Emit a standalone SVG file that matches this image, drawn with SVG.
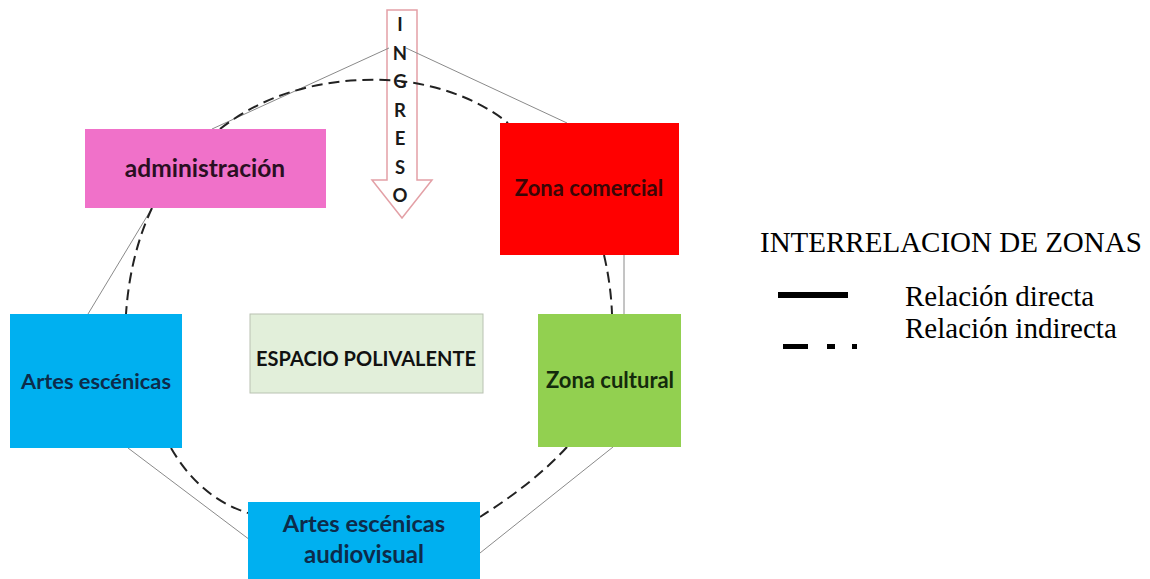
<svg xmlns="http://www.w3.org/2000/svg" width="1150" height="579" viewBox="0 0 1150 579">
<style>
.box text{font-family:Lato,"Liberation Sans",sans-serif;font-weight:bold;text-anchor:middle}
.thin{fill:none;stroke:#8a8a8a;stroke-width:1}
.dash{fill:none;stroke:#222;stroke-width:2;stroke-dasharray:11 6}
.leg{font-family:"Liberation Serif","Times New Roman",serif;font-size:29px;fill:#000}
.ing{font-family:Lato,"Liberation Sans",sans-serif;font-weight:bold;font-size:18.5px;fill:#1a1a1a;text-anchor:middle}
</style>
<rect width="1150" height="579" fill="#fff"/>
<g id="ingreso">
<path d="M387,10 H417 V180 H432 L402,218 L372,180 H387 Z" fill="#fff" stroke="#e3a0a6" stroke-width="1.5"/>
</g>
<g id="connectors">
<line class="thin" x1="389" y1="48" x2="212" y2="129"/>
<line class="thin" x1="406" y1="48" x2="567" y2="123"/>
<line class="thin" x1="152" y1="208" x2="88" y2="314"/>
<line class="thin" x1="128" y1="448" x2="250" y2="540"/>
<line class="thin" x1="480" y1="553" x2="613" y2="447"/>
<line class="thin" x1="624" y1="255" x2="624" y2="314"/>
<path class="dash" d="M220,129 C270,90 330,78 385,80 C435,82 480,100 508,123"/>
<path class="dash" d="M152,208 Q130,255 126,314"/>
<path class="dash" d="M604,255 Q611,285 612,314"/>
<path class="dash" d="M171,448 Q200,498 248,513"/>
<path class="dash" d="M567,447 Q535,482 480,517"/>
</g>
<g id="ingreso-text">
<text class="ing" x="400" y="31">I</text>
<text class="ing" x="400" y="59.5">N</text>
<text class="ing" x="400" y="88">G</text>
<text class="ing" x="400" y="116.5">R</text>
<text class="ing" x="400" y="145">E</text>
<text class="ing" x="400" y="173.5">S</text>
<text class="ing" x="400" y="202">O</text>
</g>
<g id="administracion" class="box">
<rect x="85" y="129" width="241" height="79" fill="#f071c9"/>
<text x="205" y="177" font-size="24.5" fill="#2a0f22">administración</text>
</g>
<g id="zona-comercial" class="box">
<rect x="500" y="123" width="179" height="132" fill="#ff0000"/>
<text x="589" y="196" font-size="22" fill="#3a0606">Zona comercial</text>
</g>
<g id="artes-escenicas" class="box">
<rect x="10" y="314" width="172" height="134" fill="#00b0f0"/>
<text x="96" y="389" font-size="21.8" fill="#0d2b4a">Artes escénicas</text>
</g>
<g id="espacio-polivalente" class="box">
<rect x="250" y="314" width="233" height="79" fill="#e2efda" stroke="#b9c2b2" stroke-width="1"/>
<text x="366" y="366" font-size="20" fill="#111">ESPACIO POLIVALENTE</text>
</g>
<g id="zona-cultural" class="box">
<rect x="538" y="314" width="143" height="133" fill="#92d050"/>
<text x="610" y="388" font-size="22" fill="#142a0c">Zona cultural</text>
</g>
<g id="artes-audiovisual" class="box">
<rect x="248" y="502" width="232" height="80" fill="#00b0f0"/>
<text x="364" y="532" font-size="23.6" fill="#0d2b4a">Artes escénicas</text>
<text x="364" y="563" font-size="24" fill="#0d2b4a">audiovisual</text>
</g>
<g id="legend">
<text class="leg" x="760" y="252">INTERRELACION DE ZONAS</text>
<rect x="778" y="292" width="70" height="6" fill="#000"/>
<text class="leg" x="905" y="306">Relación directa</text>
<rect x="783" y="344" width="25" height="5" fill="#000"/>
<rect x="827" y="344" width="8" height="5" fill="#000"/>
<rect x="852" y="344" width="5" height="5" fill="#000"/>
<text class="leg" x="905" y="338">Relación indirecta</text>
</g>
</svg>
